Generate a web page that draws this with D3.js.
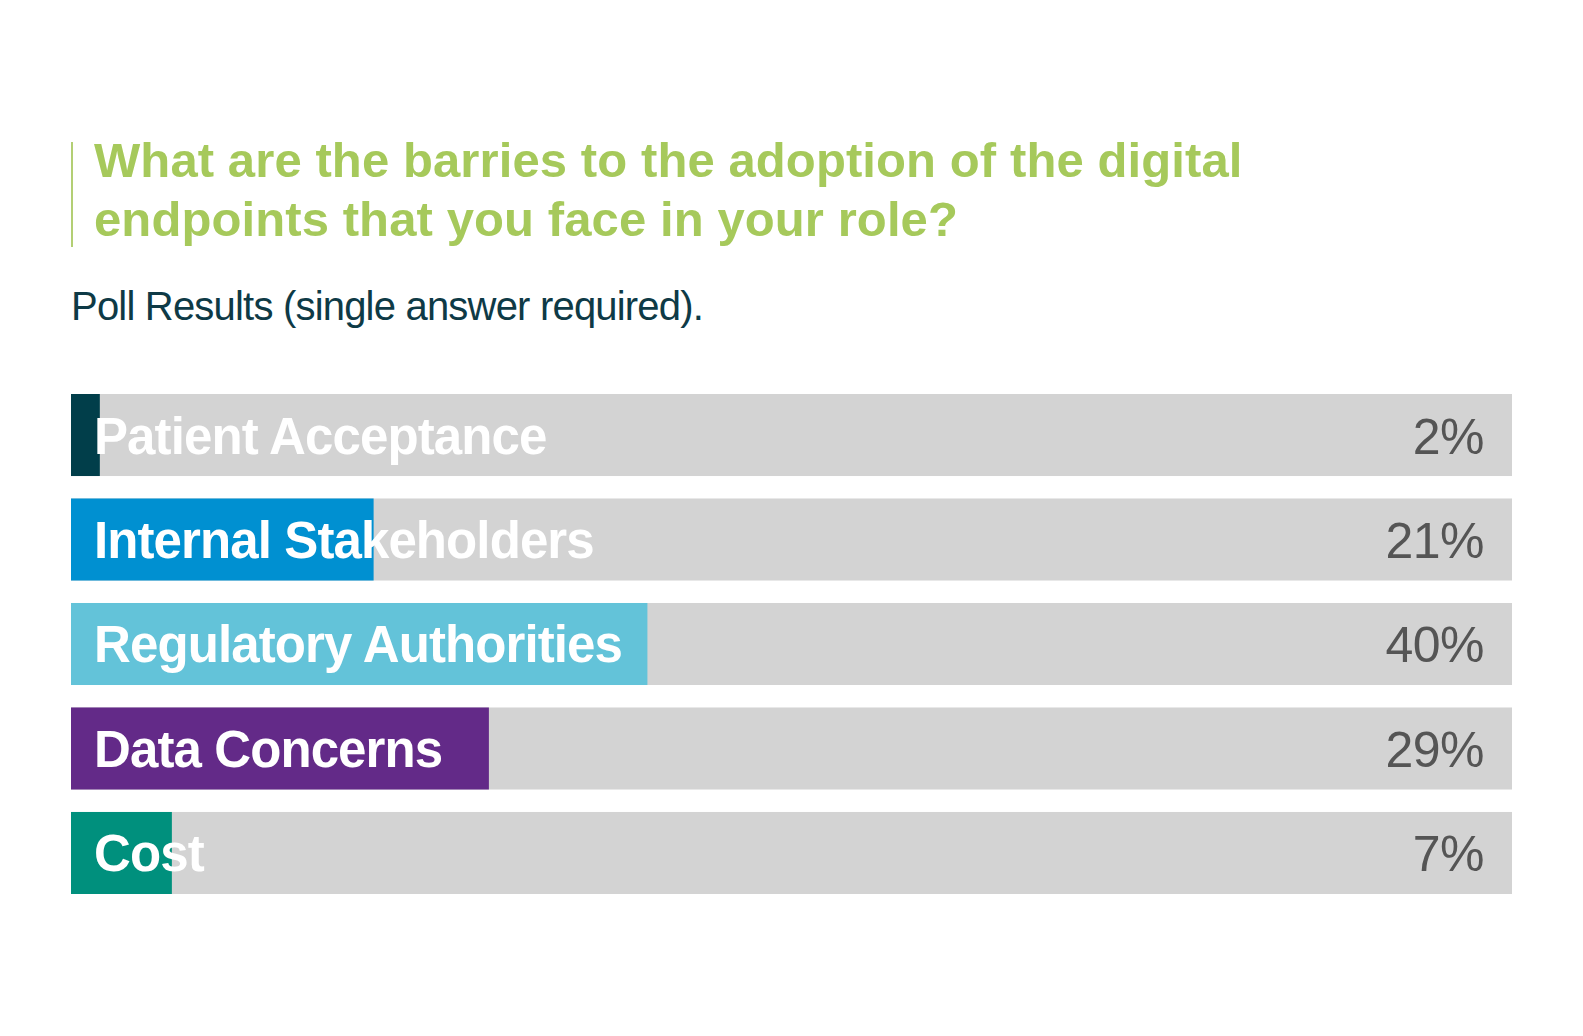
<!DOCTYPE html>
<html>
<head>
<meta charset="utf-8">
<script src="https://cdn.jsdelivr.net/npm/d3@7"></script>
<style>
  body { margin: 0; background: #fff; }
  svg { display: block; }
</style>
</head>
<body>
<div id="chart"></div>
<script>
// poll data
const categories = ["Patient Acceptance", "Internal Stakeholders", "Regulatory Authorities", "Data Concerns", "Cost"];
const values = [2, 21, 40, 29, 7];
const barColors = ["#013e4a", "#0090d1", "#63c3d9", "#632a88", "#00907d"];
const titleLines = ["What are the barries to the adoption of the digital", "endpoints that you face in your role?"];
const subtitle = "Poll Results (single answer required).";

const width = 1583;
const height = 1036;

const svg = d3.select("#chart").append("svg")
  .attr("width", width)
  .attr("height", height)
  .style("font-family", "'Liberation Sans', Arial, sans-serif");

// title block with green rule on the left
svg.append("line")
  .attr("x1", 72).attr("x2", 72)
  .attr("y1", 142).attr("y2", 247)
  .attr("stroke", "#b3cf74")
  .attr("stroke-width", 2);

svg.selectAll("text.title")
  .data(titleLines)
  .enter()
  .append("text")
  .attr("class", "title")
  .attr("x", 94)
  .attr("y", (d, i) => 177 + i * 59)
  .style("font-size", "49px")
  .style("font-weight", "bold")
  .style("letter-spacing", "0.1px")
  .style("fill", "#a6c95b")
  .text(d => d);

svg.append("text")
  .attr("x", 71)
  .attr("y", 320)
  .style("font-size", "40px")
  .style("letter-spacing", "-0.8px")
  .style("fill", "#0e3a46")
  .text(subtitle);

// scales
const x = d3.scaleLinear()
  .domain([0, 100])
  .range([71, 1512]);

const y = d3.scaleBand()
  .domain(categories)
  .range([394, 894])
  .paddingInner(0.215)
  .paddingOuter(0);

const rows = svg.selectAll("g.row")
  .data(categories.map((c, i) => ({ name: c, value: values[i], color: barColors[i] })))
  .enter()
  .append("g")
  .attr("class", "row")
  .attr("transform", d => `translate(0,${y(d.name)})`);

// grey track
rows.append("rect")
  .attr("x", x(0))
  .attr("width", x(100) - x(0))
  .attr("height", y.bandwidth())
  .attr("fill", "#d3d3d3");

// value bar
rows.append("rect")
  .attr("x", x(0))
  .attr("width", d => x(d.value) - x(0))
  .attr("height", y.bandwidth())
  .attr("fill", d => d.color);

// category label
rows.append("text")
  .attr("x", 94)
  .attr("y", y.bandwidth() / 2 + 18.5)
  .style("font-size", "51px")
  .style("font-weight", "bold")
  .style("letter-spacing", "-0.9px")
  .style("fill", "#fff")
  .text(d => d.name);

// percentage label
rows.append("text")
  .attr("x", 1484)
  .attr("y", y.bandwidth() / 2 + 18.5)
  .attr("text-anchor", "end")
  .style("font-size", "50px")
  .style("letter-spacing", "-0.5px")
  .style("fill", "#555")
  .text(d => d.value + "%");
</script>
</body>
</html>
